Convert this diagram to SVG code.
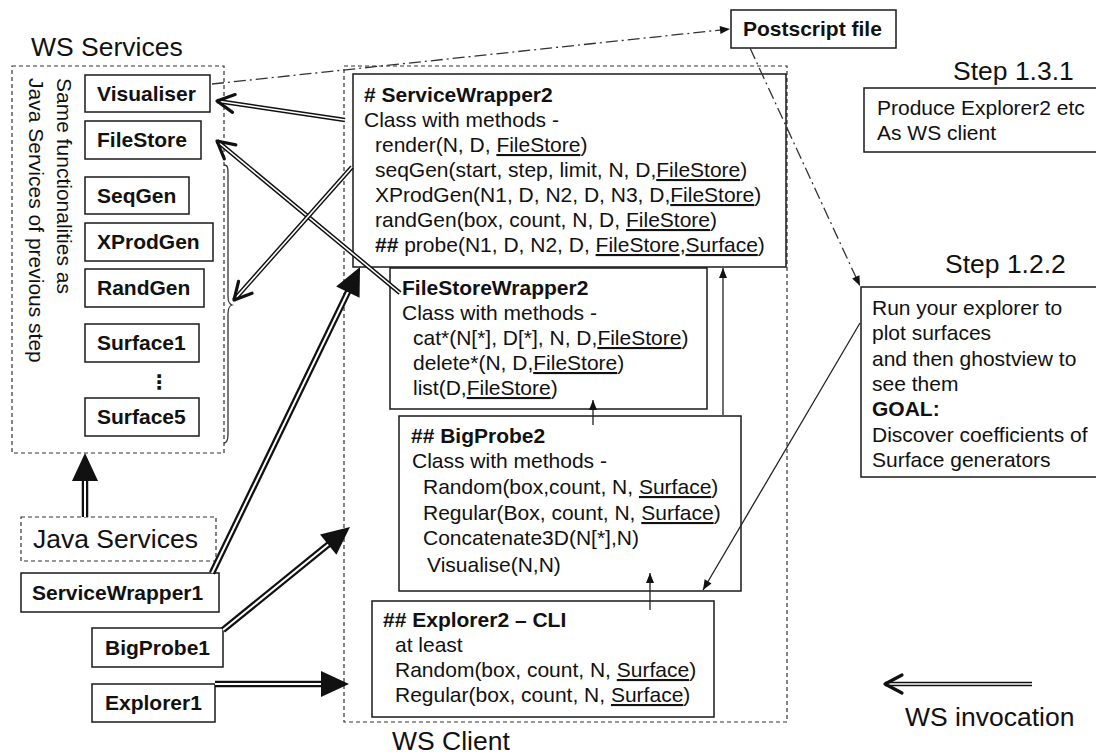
<svg xmlns="http://www.w3.org/2000/svg" width="1096" height="756" viewBox="0 0 1096 756">
  <style>
    .t { font-family: "Liberation Sans", Arial, sans-serif; font-size: 21px; fill: #111; }
    .b { font-weight: bold; }
    .big { font-size: 26.5px; }
    .u { text-decoration: underline; }
    .box { fill: #fff; stroke: #1a1a1a; stroke-width: 1.5; }
    .dash { fill: none; stroke: #333; stroke-width: 1.2; stroke-dasharray: 4 3; }
    .dashbox { fill: #fff; stroke: #333; stroke-width: 1.2; stroke-dasharray: 4 3; }
    .dd { fill: none; stroke: #333; stroke-width: 1.3; stroke-dasharray: 12 4 2 4; }
    .thin { fill: none; stroke: #222; stroke-width: 1.3; }
    .dblA { fill: none; stroke: #111; stroke-width: 4.5; }
    .dblAi { fill: none; stroke: #fff; stroke-width: 1.6; }
    .dblB { fill: none; stroke: #111; stroke-width: 6.5; }
    .dblBi { fill: none; stroke: #fff; stroke-width: 2; }
  </style>
  <defs>
    <marker id="chev" markerUnits="userSpaceOnUse" viewBox="0 0 22 22" markerWidth="22" markerHeight="22" refX="20" refY="11" orient="auto" overflow="visible">
      <path d="M3,2 L20,11 L3,20" fill="none" stroke="#111" stroke-width="3.2" stroke-linejoin="round" stroke-linecap="round"/>
    </marker>
    <marker id="tri" markerUnits="userSpaceOnUse" viewBox="0 0 28 26" markerWidth="28" markerHeight="26" refX="10" refY="13" orient="auto" overflow="visible">
      <path d="M0,0 L28,13 L0,26 Z" fill="#111"/>
    </marker>
    <marker id="sm" markerUnits="userSpaceOnUse" viewBox="0 0 10 8" markerWidth="10" markerHeight="8" refX="10" refY="4" orient="auto" overflow="visible">
      <path d="M0,0 L10,4 L0,8 Z" fill="#111"/>
    </marker>
  </defs>

  <rect width="1096" height="756" fill="#fff"/>

  <!-- group frames and captions -->
  <g id="ws-services">
    <text class="t big" x="31" y="56">WS Services</text>
    <rect class="dash" x="12" y="66" width="212" height="387"/>
    <text class="t" transform="translate(57,78) rotate(90)">Same functionalities as</text>
    <text class="t" transform="translate(29,78) rotate(90)">Java Services of previous step</text>
    <path d="M224,165 C228,165 228,168 228,175 L228,296 C228,302 229,304 232,305 C229,306 228,308 228,314 L228,434 C228,440 227,443 224,443" fill="none" stroke="#333" stroke-width="1.3"/>
  </g>
  <g id="ws-client">
    <rect class="dash" x="344" y="66" width="443" height="656"/>
    <text class="t big" x="392" y="750">WS Client</text>
  </g>

  <!-- services -->
  <g id="visualiser"><rect class="box" x="85" y="75" width="125" height="37"/><text class="t b" x="97" y="101">Visualiser</text></g>
  <g id="filestore"><rect class="box" x="85" y="121" width="116" height="38"/><text class="t b" x="97" y="147">FileStore</text></g>
  <g id="seqgen"><rect class="box" x="85" y="177" width="104" height="37"/><text class="t b" x="97" y="203">SeqGen</text></g>
  <g id="xprodgen"><rect class="box" x="85" y="223" width="128" height="38"/><text class="t b" x="97" y="249">XProdGen</text></g>
  <g id="randgen"><rect class="box" x="85" y="269" width="119" height="38"/><text class="t b" x="97" y="295">RandGen</text></g>
  <g id="surface1"><rect class="box" x="85" y="324" width="114" height="38"/><text class="t b" x="97" y="350">Surface1</text></g>
  <text class="t b" x="159" y="389" text-anchor="middle" style="font-family:'DejaVu Sans',sans-serif;font-size:20px">⋮</text>
  <g id="surface5"><rect class="box" x="85" y="398" width="114" height="38"/><text class="t b" x="97" y="424">Surface5</text></g>

  <!-- previous-step components -->
  <g id="java-services"><rect class="dashbox" x="21" y="517" width="195" height="44"/><text class="t big" x="33" y="548">Java Services</text></g>
  <g id="servicewrapper1"><rect class="box" x="21" y="573" width="198" height="39"/><text class="t b" x="32" y="600">ServiceWrapper1</text></g>
  <g id="bigprobe1"><rect class="box" x="92" y="628" width="131" height="39"/><text class="t b" x="105" y="655">BigProbe1</text></g>
  <g id="explorer1"><rect class="box" x="92" y="684" width="123" height="38"/><text class="t b" x="105" y="710">Explorer1</text></g>

  <!-- client classes -->
  <g id="servicewrapper2">
    <rect class="box" x="353" y="74" width="433" height="193"/>
    <text class="t b" x="364" y="102"># ServiceWrapper2</text>
    <text class="t" x="364" y="127">Class with methods -</text>
    <text class="t" x="375" y="152">render(N, D, <tspan class="u">FileStore</tspan>)</text>
    <text class="t" x="375" y="177">seqGen(start, step, limit, N, D,<tspan class="u">FileStore</tspan>)</text>
    <text class="t" x="375" y="202">XProdGen(N1, D, N2, D, N3, D,<tspan class="u">FileStore</tspan>)</text>
    <text class="t" x="375" y="227">randGen(box, count, N, D, <tspan class="u">FileStore</tspan>)</text>
    <text class="t" x="375" y="252"><tspan class="b">##</tspan> probe(N1, D, N2, D, <tspan class="u">FileStore</tspan>,<tspan class="u">Surface</tspan>)</text>
  </g>
  <g id="filestorewrapper2">
    <rect class="box" x="390" y="268" width="317" height="141"/>
    <text class="t b" x="402" y="295">FileStoreWrapper2</text>
    <text class="t" x="402" y="320">Class with methods -</text>
    <text class="t" x="413" y="345">cat*(N[*], D[*], N, D,<tspan class="u">FileStore</tspan>)</text>
    <text class="t" x="413" y="370">delete*(N, D,<tspan class="u">FileStore</tspan>)</text>
    <text class="t" x="413" y="395">list(D,<tspan class="u">FileStore</tspan>)</text>
  </g>
  <g id="bigprobe2">
    <rect class="box" x="399" y="416" width="342" height="175"/>
    <text class="t b" x="411" y="443">## BigProbe2</text>
    <text class="t" x="412" y="468">Class with methods -</text>
    <text class="t" x="423" y="494">Random(box,count, N, <tspan class="u">Surface</tspan>)</text>
    <text class="t" x="423" y="520">Regular(Box, count, N, <tspan class="u">Surface</tspan>)</text>
    <text class="t" x="423" y="545">Concatenate3D(N[*],N)</text>
    <text class="t" x="427" y="572">Visualise(N,N)</text>
  </g>
  <g id="explorer2">
    <rect class="box" x="372" y="601" width="342" height="116"/>
    <text class="t b" x="383" y="627">## Explorer2 – CLI</text>
    <text class="t" x="395" y="652">at least</text>
    <text class="t" x="395" y="677">Random(box, count, N, <tspan class="u">Surface</tspan>)</text>
    <text class="t" x="395" y="702">Regular(box, count, N, <tspan class="u">Surface</tspan>)</text>
  </g>

  <!-- output file and steps -->
  <g id="postscript-file"><rect class="box" x="731" y="10" width="165" height="38"/><text class="t b" x="743" y="36">Postscript file</text></g>
  <g id="step-131">
    <text class="t big" x="953" y="80">Step 1.3.1</text>
    <rect class="box" x="864" y="88" width="240" height="64"/>
    <text class="t" x="877" y="115">Produce Explorer2 etc</text>
    <text class="t" x="877" y="140">As WS client</text>
  </g>
  <g id="step-122">
    <text class="t big" x="945" y="273">Step 1.2.2</text>
    <rect class="box" x="861" y="287" width="240" height="190"/>
    <text class="t" x="872" y="315">Run your explorer to</text>
    <text class="t" x="872" y="340">plot surfaces</text>
    <text class="t" x="872" y="366">and then ghostview to</text>
    <text class="t" x="872" y="391">see them</text>
    <text class="t b" x="872" y="416">GOAL:</text>
    <text class="t" x="872" y="442">Discover coefficients of</text>
    <text class="t" x="872" y="467">Surface generators</text>
  </g>

  <!-- connectors -->
  <g id="connectors">
    <!-- thin data-flow lines -->
    <path class="dd" d="M212,84 L730,29" marker-end="url(#sm)"/>
    <path class="dd" d="M750,48 L860,286" marker-end="url(#sm)"/>
    <path class="thin" d="M860,323 L703,590" marker-end="url(#sm)"/>
    <path class="thin" d="M593,425 L593,400" marker-end="url(#sm)"/>
    <path class="thin" d="M723,415 L723,268" marker-end="url(#sm)"/>
    <path class="thin" d="M650,610 L650,573" marker-end="url(#sm)"/>

    <!-- WS invocations (double line, open head) -->
    <path class="dblA" d="M345,120 L217,101"/>
    <path class="dblAi" d="M345,120 L217,101" marker-end="url(#chev)"/>
    <path class="dblA" d="M400,293 L217,141"/>
    <path class="dblAi" d="M400,293 L217,141" marker-end="url(#chev)"/>
    <path class="dblA" d="M352,167 L234,300"/>
    <path class="dblAi" d="M352,167 L234,300" marker-end="url(#chev)"/>
    <path class="dblA" d="M1032,684 L885,684"/>
    <path class="dblAi" d="M1032,684 L885,684" marker-end="url(#chev)"/>

    <!-- derivation arrows (double line, filled head) -->
    <path class="dblB" d="M212,573 L352.2,283.2"/>
    <path class="dblBi" d="M212,573 L352.2,283.2" marker-end="url(#tri)"/>
    <path class="dblB" d="M223,630 L336,538.3"/>
    <path class="dblBi" d="M223,630 L336,538.3" marker-end="url(#tri)"/>
    <path class="dblB" d="M215,684 L331,684"/>
    <path class="dblBi" d="M215,684 L331,684" marker-end="url(#tri)"/>
    <path class="dblB" d="M85,517 L85,471"/>
    <path class="dblBi" d="M85,517 L85,471" marker-end="url(#tri)"/>
  </g>

  <text class="t big" x="905" y="726">WS invocation</text>
</svg>
